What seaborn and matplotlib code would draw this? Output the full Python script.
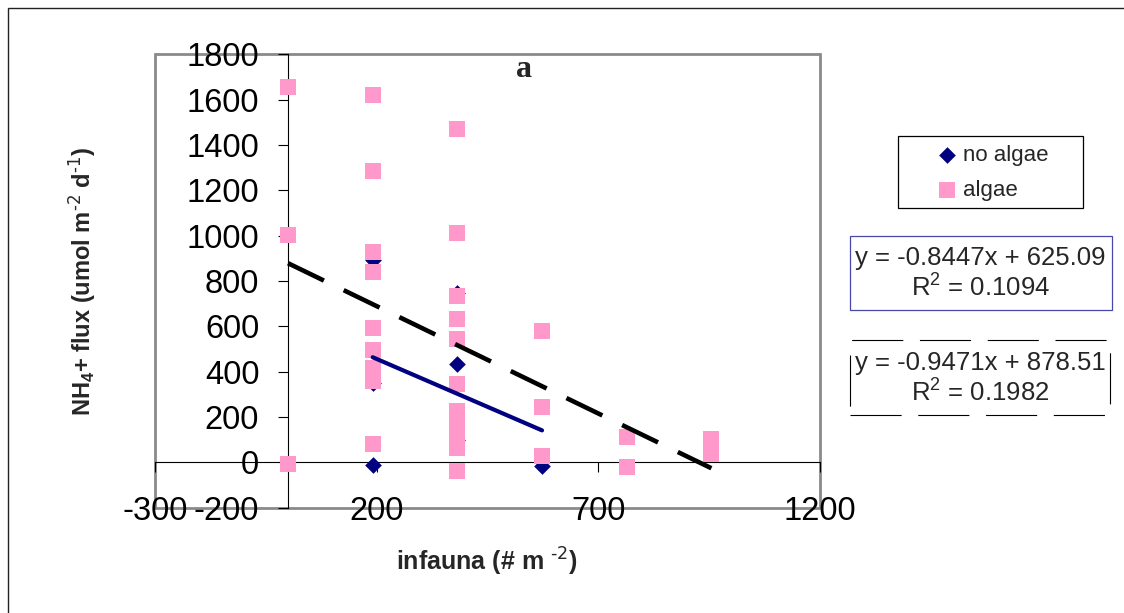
import numpy as np
import pandas as pd
import matplotlib
matplotlib.use("Agg")
import matplotlib.pyplot as plt
import seaborn as sns
from matplotlib.patches import Rectangle
from matplotlib.lines import Line2D

# ---------------- data ----------------
noalgae_x = [191, 191, 191, 382, 382, 382, 573]
noalgae_y = [893, 349, -11, 746, 434, 99, -17]

algae_x = [0, 0, 0,
           191, 191, 191, 191, 191, 191, 191, 191, 191, 191,
           382, 382, 382, 382, 382, 382, 382, 382, 382, 382, 382, 382,
           573, 573, 573,
           764, 764,
           955, 955]
algae_y = [1655, 1003, -7,
           1621, 1285, 929, 841, 594, 494, 418, 390, 358, 80,
           1469, 1011, 735, 633, 544, 345, 225, 190, 150, 110, 64, -37,
           581, 243, 30,
           112, -19,
           104, 36]

series_labels = ["no algae", "algae"]
fit_noalgae = {"slope": -0.8447, "intercept": 625.09, "r2": 0.1094}
fit_algae = {"slope": -0.9471, "intercept": 878.51, "r2": 0.1982}

x_ticks = [-300, 200, 700, 1200]
y_ticks = list(range(-200, 1801, 200))
x_label = r"infauna (# m $^{\text{-2}}$)"
y_label = r"NH$_4$+ flux (umol m$^{\text{-2}}$ d$^{\text{-1}}$)"
title = "a"

# ---------------- style ----------------
sns.set_style("white")
plt.rcParams["font.family"] = ["Liberation Sans", "DejaVu Sans"]
plt.rcParams["axes.unicode_minus"] = False
plt.rcParams["mathtext.default"] = "regular"

PINK = "#FF99CC"
NAVY = "#000080"

W, H = 1124, 613
fig = plt.figure(figsize=(W / 100, H / 100), dpi=100)
fig.patch.set_facecolor("white")


def fx(px):
    return px / W


def fy(py):
    return 1 - py / H


ax = fig.add_axes([fx(155), fy(507.7), fx(820) - fx(155), fy(54.3) - fy(507.7)])
ax.set_facecolor("none")

df_no = pd.DataFrame({"x": noalgae_x, "y": noalgae_y, "group": series_labels[0]})
df_al = pd.DataFrame({"x": algae_x, "y": algae_y, "group": series_labels[1]})

sns.scatterplot(data=df_no, x="x", y="y", marker="D", s=72, color=NAVY,
                linewidth=0, ax=ax, label=series_labels[0], zorder=3)
sns.scatterplot(data=df_al, x="x", y="y", marker="s", s=132, color=PINK,
                linewidth=0, ax=ax, label=series_labels[1], zorder=4)

# trend lines from the given equations over each series' x range
xn = np.array([min(noalgae_x), max(noalgae_x)], dtype=float)
sns.lineplot(x=xn, y=fit_noalgae["slope"] * xn + fit_noalgae["intercept"],
             color=NAVY, lw=3.0, ax=ax, zorder=5, legend=False)
ax.lines[-1].set_solid_capstyle("round")
xa = np.array([min(algae_x), max(algae_x)], dtype=float)
sns.lineplot(x=xa, y=fit_algae["slope"] * xa + fit_algae["intercept"],
             color="black", lw=3.3, ax=ax, zorder=5, legend=False)
ax.lines[-1].set_dashes([8.7, 4.8])
ax.lines[-1].set_dash_capstyle("butt")

ax.get_legend().remove()

ax.set_xlim(-300, 1200)
ax.set_ylim(-200, 1800)
ax.set_xticks(x_ticks)
ax.set_yticks(y_ticks)
ax.set_xlabel("")
ax.set_ylabel("")
ax.grid(False)

for s in ["top", "right"]:
    ax.spines[s].set_visible(False)
ax.spines["left"].set_position(("data", 0))
ax.spines["bottom"].set_position(("data", 0))
for s in ["left", "bottom"]:
    ax.spines[s].set_color("black")
    ax.spines[s].set_linewidth(0.8)
    ax.spines[s].set_zorder(2)

ax.tick_params(axis="x", direction="out", length=7.2, width=0.8, pad=17,
               labelsize=23.5, colors="black", bottom=True, top=False)
ax.tick_params(axis="y", direction="out", length=7.2, width=0.8, pad=13.5,
               labelsize=23.5, colors="black", left=True, right=False)

# gray plot-area border
ax.add_patch(Rectangle((0, 0), 1, 1, transform=ax.transAxes, fill=False,
                       ec="#8a8a8a", lw=2, clip_on=False, zorder=0.5))

# axis titles
fig.text(fx(487), fy(562), x_label, ha="center", va="center",
         fontsize=18, fontweight="bold")
fig.text(fx(82), fy(281), y_label, ha="center", va="center", rotation=90,
         fontsize=17, fontweight="bold")
fig.text(fx(524), fy(77), title, ha="center", va="baseline",
         fontsize=23, fontweight="bold", family="Liberation Serif")

# outer chart frame (top and left edges visible)
fig.add_artist(Rectangle((fx(8), -0.2), 1.5, fy(8) + 0.2, transform=fig.transFigure,
                         fill=False, ec="#222222", lw=1.0))

# legend box
fig.add_artist(Rectangle((fx(898), fy(208)), fx(1083) - fx(898), fy(136) - fy(208),
                         transform=fig.transFigure, fill=False, ec="black", lw=0.9))
handles, labels = ax.get_legend_handles_labels()
if not handles:
    handles = [Line2D([], [], marker="D", ls="", color=NAVY, ms=8.5),
               Line2D([], [], marker="s", ls="", color=PINK, ms=11.5)]
    labels = series_labels
fig.legend(handles[:2], labels[:2], loc="center left",
           bbox_to_anchor=(fx(936), fy(173)), frameon=False, fontsize=16,
           borderpad=0, handlelength=1.0, handletextpad=0.2, labelspacing=0.62,
           borderaxespad=0)

# equation boxes
fig.add_artist(Rectangle((fx(850), fy(310)), fx(1112) - fx(850), fy(236) - fy(310),
                         transform=fig.transFigure, fill=False, ec="#4848A8", lw=0.9))
fig.add_artist(Rectangle((fx(850), fy(415)), fx(1110) - fx(850), fy(340) - fy(415),
                         transform=fig.transFigure, fill=False, ec="black", lw=0.8,
                         ls=(0, (46, 15))))


def eq_text(fit):
    sign = "+" if fit["intercept"] >= 0 else "-"
    return (f"y = {fit['slope']:.4f}x {sign} {abs(fit['intercept']):.2f}",
            f"R$^2$ = {fit['r2']:.4f}")


for fit, (b1, b2) in [(fit_noalgae, (265, 297)), (fit_algae, (370, 402))]:
    l1, l2 = eq_text(fit)
    fig.text(fx(980), fy(b1), l1, ha="center", va="baseline", fontsize=18.5)
    fig.text(fx(980), fy(b2), l2, ha="center", va="baseline", fontsize=18.5)

fig.savefig("out.png", dpi=100)
